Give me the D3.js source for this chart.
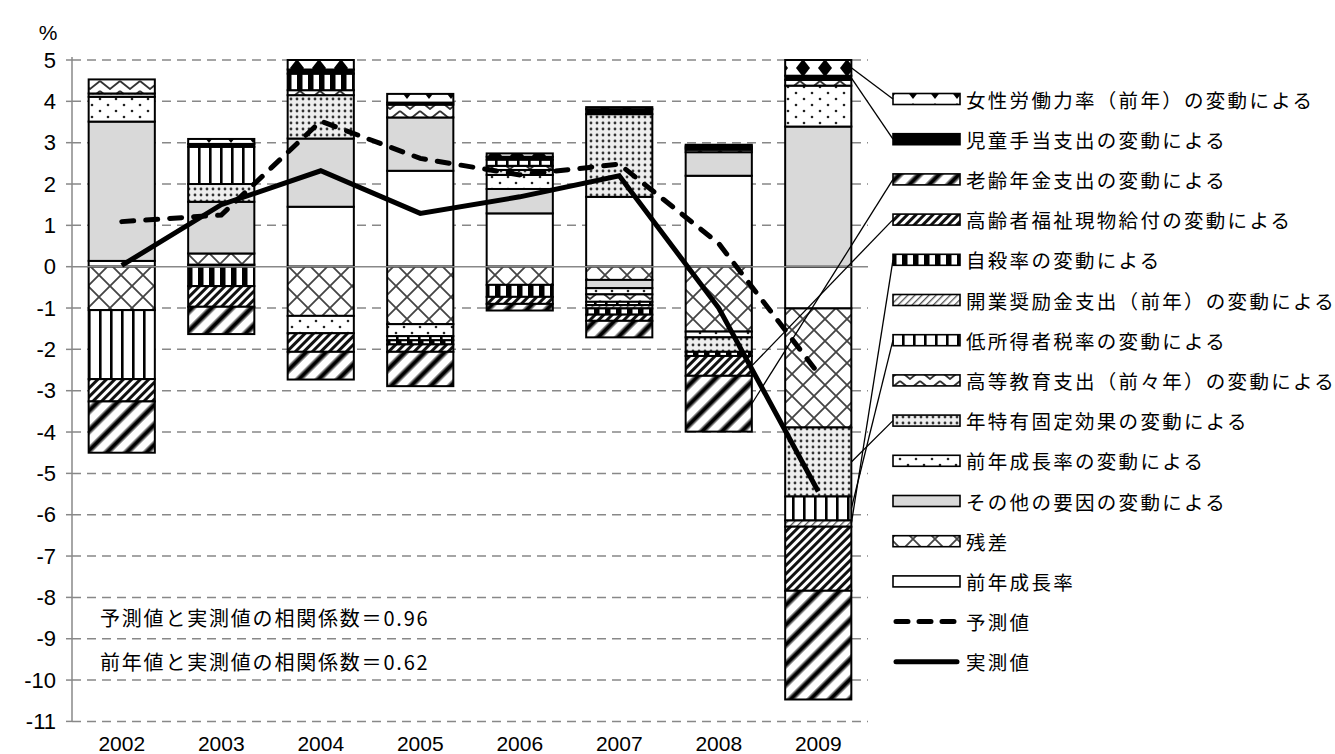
<!DOCTYPE html>
<html><head><meta charset="utf-8">
<script src="https://cdn.jsdelivr.net/npm/d3@7"></script>
<style>body{margin:0;background:#fff}</style>
</head><body><svg id="c" width="1335" height="754"></svg>
<script>
// ---------------- DATA ----------------
const years = ['2002','2003','2004','2005','2006','2007','2008','2009'];
const yTicks = [5,4,3,2,1,0,-1,-2,-3,-4,-5,-6,-7,-8,-9,-10,-11];

// stacking order (bottom first); legend shows reverse order
const prevGrowth     = [0.14, 0.05, 1.45, 2.32, 1.29, 1.69, 2.20, -1.01]; // 前年成長率
const residual       = [-1.05, 0.27, -1.19, -1.39, -0.44, -0.32, -1.57, -2.88]; // 残差
const otherFactors   = [3.37, 1.25, 1.65, 1.29, 0.59, -0.20, 0.57, 3.39]; // その他の要因
const prevGrowthChg  = [0.60, 0.00, -0.42, -0.29, 0.34, -0.15, -0.14, 0.99]; // 前年成長率の変動
const yearFixed      = [0.08, 0.43, 1.05, 0.00, 0.12, 2.00, -0.35, -1.67]; // 年特有固定効果
const higherEdu      = [0.34, 0.00, 0.12, 0.31, 0.10, -0.18, 0.06, 0.14]; // 高等教育支出
const lowIncomeTax   = [-1.67, 0.90, 0.00, -0.10, 0.15, -0.08, 0.00, -0.58]; // 低所得者税率
const startupSubsidy = [0.00, 0.00, 0.00, 0.00, 0.00, -0.08, 0.04, -0.15]; // 開業奨励金支出
const suicideRate    = [0.00, -0.47, 0.40, -0.10, -0.29, -0.15, -0.10, 0.00]; // 自殺率
const elderlyWelfare = [-0.54, -0.50, -0.45, -0.18, -0.17, -0.15, -0.48, -1.55]; // 高齢者福祉現物給付
const oldAgePension  = [-1.24, -0.66, -0.67, -0.83, -0.16, -0.40, -1.35, -2.63]; // 老齢年金支出
const childAllowance = [0.00, 0.07, 0.10, 0.05, 0.07, 0.12, 0.04, 0.10]; // 児童手当支出
const femaleLabor    = [0.00, 0.12, 0.23, 0.21, 0.08, 0.05, 0.04, 0.38]; // 女性労働力率

const forecast = [1.09, 1.25, 3.52, 2.62, 2.22, 2.48, 0.56, -2.58]; // 予測値
const actual   = [0.03, 1.50, 2.32, 1.29, 1.69, 2.20, -1.00, -5.44]; // 実測値

const seriesNames = ['前年成長率','残差','その他の要因の変動による','前年成長率の変動による',
  '年特有固定効果の変動による','高等教育支出（前々年）の変動による','低所得者税率の変動による',
  '開業奨励金支出（前年）の変動による','自殺率の変動による','高齢者福祉現物給付の変動による',
  '老齢年金支出の変動による','児童手当支出の変動による','女性労働力率（前年）の変動による'];
const seriesValues = [prevGrowth,residual,otherFactors,prevGrowthChg,yearFixed,higherEdu,
  lowIncomeTax,startupSubsidy,suicideRate,elderlyWelfare,oldAgePension,childAllowance,femaleLabor];

const note1 = '予測値と実測値の相関係数＝0.96';
const note2 = '前年値と実測値の相関係数＝0.62';

// ---------------- STYLE ----------------
const fills = ['#fff','url(#p_cross)','#d9d9d9','url(#p_sdots)','url(#p_ddots)','url(#p_zig)',
  'url(#p_vthin)','url(#p_fdiag)','url(#p_vbold)','url(#p_ddiag)','url(#p_wdiag)','#000','url(#p_diam)'];

const svg = d3.select('#c');
const defs = svg.append('defs');
function pattern(id,w,h,tr,px,py){
  const p = defs.append('pattern').attr('id',id).attr('patternUnits','userSpaceOnUse')
    .attr('width',w).attr('height',h).attr('x',px||0).attr('y',py||0);
  if(tr) p.attr('patternTransform',tr);
  return p;
}
let p;
p = pattern('p_cross',22,22); p.append('rect').attr('width',22).attr('height',22).attr('fill','#fff');
p.append('path').attr('d','M0,0L22,22M22,0L0,22').attr('stroke','#444').attr('stroke-width',1.8);
p = pattern('p_sdots',16,12); p.append('rect').attr('width',16).attr('height',12).attr('fill','#fff');
p.append('circle').attr('cx',4).attr('cy',3).attr('r',1.3).attr('fill','#222');
p.append('circle').attr('cx',12).attr('cy',9).attr('r',1.3).attr('fill','#222');
p = pattern('p_ddots',6,6); p.append('rect').attr('width',6).attr('height',6).attr('fill','#eee');
p.append('circle').attr('cx',3).attr('cy',3).attr('r',1.4).attr('fill','#333');
p = pattern('p_zig',20,10); p.append('rect').attr('width',20).attr('height',10).attr('fill','#fff');
p.append('path').attr('d','M0,1L10,9L20,1').attr('stroke','#333').attr('stroke-width',1.8).attr('fill','none');
p = pattern('p_vthin',11,10); p.append('rect').attr('width',11).attr('height',10).attr('fill','#fff');
p.append('rect').attr('width',2.6).attr('height',10).attr('fill','#000');
p = pattern('p_fdiag',5,10,'rotate(45)'); p.append('rect').attr('width',5).attr('height',10).attr('fill','#fff');
p.append('rect').attr('width',1.3).attr('height',10).attr('fill','#555');
p = pattern('p_vbold',11,10); p.append('rect').attr('width',11).attr('height',10).attr('fill','#fff');
p.append('rect').attr('width',5.5).attr('height',10).attr('fill','#000');
p = pattern('p_ddiag',6,10,'rotate(45)'); p.append('rect').attr('width',6).attr('height',10).attr('fill','#fff');
p.append('rect').attr('width',3).attr('height',10).attr('fill','#111');
p = pattern('p_wdiag',14,10,'rotate(45)'); p.append('rect').attr('width',14).attr('height',10).attr('fill','#fff');
p.append('rect').attr('x',0).attr('width',7).attr('height',10).attr('fill','#999');
p.append('rect').attr('x',1.5).attr('width',4).attr('height',10).attr('fill','#000');
p = pattern('p_diam',22,22,null,0,57); p.append('rect').attr('width',22).attr('height',22).attr('fill','#fff');
p.append('path').attr('d','M11,2L18,11L11,20L4,11Z').attr('fill','#000');

// ---------------- SCALES ----------------
const left = 72, right = 868;
const x = d3.scaleBand().domain(years).range([left,right]).paddingInner(0.335).paddingOuter(0.1675);
const y = d3.scaleLinear().domain([-11,5]).range([721.4,60]);

// grid
const grid = svg.append('g');
yTicks.forEach(t=>{
  grid.append('line').attr('x1',left-6).attr('x2',left).attr('y1',y(t)).attr('y2',y(t))
    .attr('stroke','#888').attr('stroke-width',1.5);
  if(t!==0) grid.append('line').attr('x1',left).attr('x2',right).attr('y1',y(t)).attr('y2',y(t))
    .attr('stroke','#888').attr('stroke-width',1.5).attr('stroke-dasharray','9,6');
});
grid.append('line').attr('x1',left).attr('x2',left).attr('y1',y(5)-3).attr('y2',y(-11))
  .attr('stroke','#888').attr('stroke-width',1.5);

// y labels
const font = "'Noto Sans CJK JP','Noto Sans',sans-serif";
const numFont = "'Liberation Sans','DejaVu Sans',sans-serif";
svg.append('g').selectAll('text').data(yTicks).join('text')
  .attr('x',56).attr('y',d=>y(d)).attr('text-anchor','end').attr('dominant-baseline','central')
  .attr('font-family',numFont).attr('font-size',22).attr('fill','#000').text(d=>d);
svg.append('text').attr('x',48).attr('y',32).attr('text-anchor','middle').attr('dominant-baseline','central')
  .attr('font-family',numFont).attr('font-size',21).text('%');
svg.append('g').selectAll('text').data(years).join('text')
  .attr('x',d=>x(d)+x.bandwidth()/2).attr('y',751).attr('text-anchor','middle')
  .attr('font-family',numFont).attr('font-size',21).text(d=>d);

// ---------------- BARS ----------------
const rows = years.map((yr,i)=>{const o={year:yr}; seriesNames.forEach((k,j)=>o[k]=seriesValues[j][i]); return o;});
const stacked = d3.stack().keys(seriesNames).offset(d3.stackOffsetDiverging)(rows);
const barG = svg.append('g');
stacked.forEach((layer,li)=>{
  barG.append('g').selectAll('rect').data(layer.filter(d=>Math.abs(d[1]-d[0])>1e-9)).join('rect')
    .attr('x',d=>x(d.data.year)).attr('width',x.bandwidth())
    .attr('y',d=>y(Math.max(d[0],d[1]))).attr('height',d=>Math.abs(y(d[0])-y(d[1])))
    .attr('fill',fills[li]).attr('stroke','#000').attr('stroke-width',2);
});
// zero line
svg.append('line').attr('x1',left).attr('x2',right).attr('y1',y(0)).attr('y2',y(0))
  .attr('stroke','#888').attr('stroke-width',1.5);

// ---------------- LINES ----------------
const lineGen = d3.line().x((d,i)=>x(years[i])+x.bandwidth()/2).y(d=>y(d));
svg.append('path').attr('d',lineGen(forecast)).attr('fill','none').attr('stroke','#000')
  .attr('stroke-width',5).attr('stroke-dasharray','12,12').attr('stroke-linecap','round');
svg.append('path').attr('d',lineGen(actual)).attr('fill','none').attr('stroke','#000')
  .attr('stroke-width',5).attr('stroke-linejoin','miter');

// ---------------- NOTES ----------------
[note1,note2].forEach((t,i)=>{
  svg.append('text').attr('x',100).attr('y',617+i*44).attr('dominant-baseline','central')
    .attr('font-family',font).attr('font-size',20).attr('letter-spacing',1.8).text(t);
});

// ---------------- LEGEND ----------------
const legX = 893, legW = 67, legY0 = 99, legStep = 40.2;
const legItems = seriesNames.map((n,i)=>({name:n, idx:i})).reverse();
legItems.push({name:'予測値', line:'dash'}, {name:'実測値', line:'solid'});
const lg = svg.append('g');
legItems.forEach((it,i)=>{
  const cy = legY0 + i*legStep;
  if(it.line){
    lg.append('line').attr('x1',legX+3).attr('x2',legX+legW-3).attr('y1',cy).attr('y2',cy)
      .attr('stroke','#000').attr('stroke-width',5)
      .attr('stroke-dasharray',it.line==='dash'?'12,11':null).attr('stroke-linecap','round');
  } else {
    lg.append('rect').attr('x',legX).attr('y',cy-5.5).attr('width',legW).attr('height',11)
      .attr('fill',fills[it.idx]).attr('stroke','#000').attr('stroke-width',1.6);
  }
  lg.append('text').attr('x',legX+legW+6).attr('y',cy).attr('dominant-baseline','central')
    .attr('font-family',font).attr('font-size',19.5).attr('letter-spacing',2.3).text(it.name);
});

// leader lines from legend swatches to bar segments
function segMid(name, yearIdx, edge){
  const li = seriesNames.indexOf(name);
  const d = stacked[li][yearIdx];
  return [edge, y((d[0]+d[1])/2)];
}
const barRight = yr => x(yr)+x.bandwidth();
const leaders = [
  ['女性労働力率（前年）の変動による', 7],
  ['児童手当支出の変動による', 7],
  ['老齢年金支出の変動による', 6],
  ['高齢者福祉現物給付の変動による', 6],
  ['自殺率の変動による', 7, '開業奨励金支出（前年）の変動による'],
  ['低所得者税率の変動による', 7],
  ['年特有固定効果の変動による', 7]
];
leaders.forEach(([name, yi, target])=>{
  const li = legItems.findIndex(it=>it.name===name);
  const ly = legY0 + li*legStep;
  const [bx,by] = segMid(target||name, yi, barRight(years[yi]));
  lg.append('line').attr('x1',legX).attr('y1',ly).attr('x2',bx).attr('y2',by)
    .attr('stroke','#000').attr('stroke-width',1.3);
});
</script></body></html>
